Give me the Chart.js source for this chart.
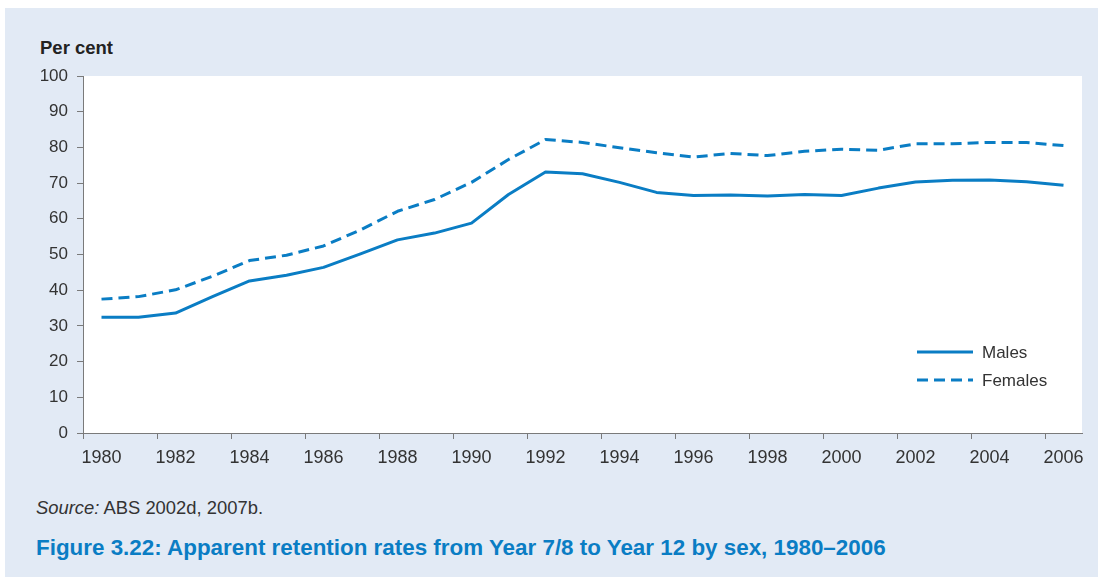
<!DOCTYPE html>
<html>
<head>
<meta charset="utf-8">
<script src="https://cdn.jsdelivr.net/npm/chart.js@4"></script>
<style>
  html, body { margin: 0; padding: 0; background: #fff; }
  body { width: 1098px; height: 577px; position: relative; overflow: hidden; font-family: "Liberation Sans", Arial, sans-serif; }
  #panel { position: absolute; left: 5px; top: 8px; right: 0; bottom: 0; background: #e2eaf5; }
  #wrap { position: absolute; left: 0; top: 0; width: 1098px; height: 480px; }
  .ylab { position: absolute; left: 40px; top: 37px; font-weight: bold; font-size: 18.5px; color: #222; }
  .source { position: absolute; left: 36px; top: 497px; font-size: 18.4px; color: #333; }
  .caption { position: absolute; left: 36px; top: 535px; font-size: 22.4px; font-weight: bold; color: #0a7dc4; }
</style>
</head>
<body>
<div id="panel"></div>
<div class="ylab">Per cent</div>
<div id="wrap"><canvas id="retentionChart"></canvas></div>
<div class="source"><i>Source:</i> ABS 2002d, 2007b.</div>
<div class="caption">Figure 3.22: Apparent retention rates from Year 7/8 to Year 12 by sex, 1980–2006</div>

<script>
// ===== Data =====
const years = ['1980','1981','1982','1983','1984','1985','1986','1987','1988','1989',
  '1990','1991','1992','1993','1994','1995','1996','1997','1998','1999',
  '2000','2001','2002','2003','2004','2005','2006'];
const males = [32.4,32.4,33.6,38.2,42.6,44.2,46.4,50.2,54.1,56.0,
  58.8,66.8,73.1,72.6,70.2,67.4,66.5,66.7,66.4,66.8,
  66.5,68.6,70.3,70.8,70.9,70.4,69.4];
const females = [37.5,38.2,40.1,43.9,48.3,49.8,52.4,56.9,62.1,65.4,
  70.2,76.6,82.2,81.4,79.9,78.5,77.3,78.3,77.7,78.9,
  79.5,79.2,81.0,81.0,81.4,81.4,80.5];
const yTicks = [0,10,20,30,40,50,60,70,80,90,100];

const blue = '#0a7dc4';
const axisGrey = '#7a7a7a';
const textGrey = '#333333';
const fontFamily = '"Liberation Sans", Arial, sans-serif';

// white plot background
const plotBg = {
  id: 'plotBg',
  beforeDraw(chart) {
    const { ctx, chartArea: a } = chart;
    ctx.save();
    ctx.fillStyle = '#ffffff';
    ctx.fillRect(a.left, a.top, a.right - a.left, a.bottom - a.top);
    ctx.restore();
  }
};

// line-sample legend in the lower right of the plot
const lineLegend = {
  id: 'lineLegend',
  afterDraw(chart) {
    const { ctx, chartArea: a } = chart;
    const x0 = a.right - 165, x1 = x0 + 56;
    let y = a.bottom - 81;
    ctx.save();
    ctx.font = '17px ' + fontFamily;
    ctx.textBaseline = 'middle';
    chart.data.datasets.forEach(ds => {
      ctx.strokeStyle = ds.borderColor;
      ctx.lineWidth = ds.borderWidth;
      ctx.setLineDash(ds.borderDash || []);
      ctx.beginPath();
      ctx.moveTo(x0, y);
      ctx.lineTo(x1, y);
      ctx.stroke();
      ctx.fillStyle = textGrey;
      ctx.fillText(ds.label, x1 + 9, y + 1);
      y += 28;
    });
    ctx.restore();
  }
};

new Chart(document.getElementById('retentionChart'), {
  type: 'line',
  data: {
    labels: years,
    datasets: [
      {
        label: 'Males',
        data: males,
        borderColor: blue,
        borderWidth: 3,
        borderJoinStyle: 'round',
        pointRadius: 0,
        tension: 0,
        fill: false
      },
      {
        label: 'Females',
        data: females,
        borderColor: blue,
        borderWidth: 3,
        borderDash: [11, 6],
        borderJoinStyle: 'round',
        pointRadius: 0,
        tension: 0,
        fill: false
      }
    ]
  },
  options: {
    responsive: true,
    maintainAspectRatio: false,
    animation: false,
    layout: { padding: { top: 76, right: 16, bottom: 7, left: 0 } },
    plugins: { legend: { display: false }, tooltip: { enabled: false } },
    scales: {
      x: {
        type: 'category',
        offset: true,
        afterFit: s => { s.height = 40; },
        border: { color: axisGrey, width: 1 },
        grid: {
          offset: true,
          drawOnChartArea: false,
          tickLength: 6,
          color: c => (c.index % 2 === 0 ? axisGrey : 'rgba(0,0,0,0)')
        },
        ticks: {
          autoSkip: false,
          maxRotation: 0,
          padding: 8,
          color: textGrey,
          font: { family: fontFamily, size: 18 },
          callback: function (v, i) { return i % 2 === 0 ? years[i] : ''; }
        }
      },
      y: {
        min: 0,
        max: 100,
        afterFit: s => { s.width = 83; },
        afterBuildTicks: s => { s.ticks = yTicks.map(v => ({ value: v })); },
        border: { color: axisGrey, width: 1 },
        grid: { drawOnChartArea: false, tickLength: 6, color: axisGrey },
        ticks: {
          padding: 9,
          color: textGrey,
          font: { family: fontFamily, size: 17 }
        }
      }
    }
  },
  plugins: [plotBg, lineLegend]
});
</script>
</body>
</html>
